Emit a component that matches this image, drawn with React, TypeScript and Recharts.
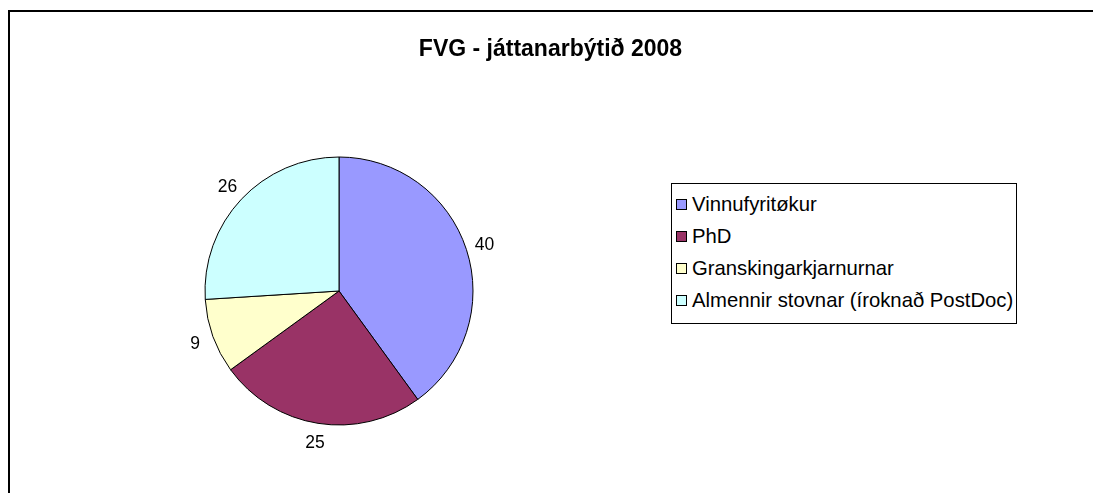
import { PieChart, Pie, Cell, Legend } from 'recharts';

const categories = ['Vinnufyritøkur', 'PhD', 'Granskingarkjarnurnar', 'Almennir stovnar (íroknað PostDoc)'];
const values = [40, 25, 9, 26];
const colors = ['#9999FF', '#993366', '#FFFFCC', '#CCFFFF'];

const data = categories.map((name, i) => ({ name, value: values[i] }));

const FONT = '"Liberation Sans", Arial, sans-serif';
const RADIAN = Math.PI / 180;

const renderLabel = (props: any) => {
  const { cx, cy, midAngle, outerRadius, value } = props;
  const r = outerRadius + 19;
  const x = cx + r * Math.cos(-midAngle * RADIAN);
  const y = cy + r * Math.sin(-midAngle * RADIAN);
  return (
    <text x={x} y={y} textAnchor="middle" dominantBaseline="central" fontSize={17.5} fill="#000" fontFamily={FONT}>
      {value}
    </text>
  );
};

const renderLegend = (props: any) => {
  const payload = [...(props.payload || [])].sort(
    (a: any, b: any) => categories.indexOf(a.value) - categories.indexOf(b.value)
  );
  return (
    <div
      style={{
        width: 346,
        height: 141,
        boxSizing: 'border-box',
        border: '1px solid #000',
        background: '#fff',
        padding: '4px 0 0 4px',
        fontFamily: FONT,
        fontSize: 20.3,
        color: '#000',
      }}
    >
      {payload.map((entry: any) => (
        <div key={entry.value} style={{ height: 32, display: 'flex', alignItems: 'center', whiteSpace: 'nowrap' }}>
          <span
            style={{
              display: 'inline-block',
              width: 9,
              height: 9,
              border: '1px solid #000',
              background: entry.color,
              marginRight: 5,
            }}
          />
          {entry.value}
        </div>
      ))}
    </div>
  );
};

export default function App() {
  return (
    <div
      style={{
        position: 'fixed',
        left: 8,
        top: 10,
        width: 1200,
        height: 600,
        boxSizing: 'border-box',
        border: '2px solid #000',
        fontFamily: FONT,
        overflow: 'hidden',
      }}
    >
      <div
        style={{
          position: 'absolute',
          left: 0,
          top: 23,
          width: 1081,
          textAlign: 'center',
          fontWeight: 'bold',
          fontSize: 23,
          color: '#000',
        }}
      >
        FVG - játtanarbýtið 2008
      </div>
      <div style={{ position: 'absolute', left: -2, top: -4 }}>
        <PieChart width={1085} height={485}>
          <Pie
            data={data}
            dataKey="value"
            nameKey="name"
            cx={326}
            cy={278}
            outerRadius={134}
            startAngle={90}
            endAngle={-270}
            stroke="#000"
            strokeWidth={1}
            label={renderLabel}
            labelLine={false}
            isAnimationActive={false}
          >
            {data.map((d, i) => (
              <Cell key={d.name} fill={colors[i]} />
            ))}
          </Pie>
          <Legend
            layout="vertical"
            content={renderLegend}
            wrapperStyle={{ left: 663, top: 175, width: 346, height: 141 }}
          />
        </PieChart>
      </div>
    </div>
  );
}
